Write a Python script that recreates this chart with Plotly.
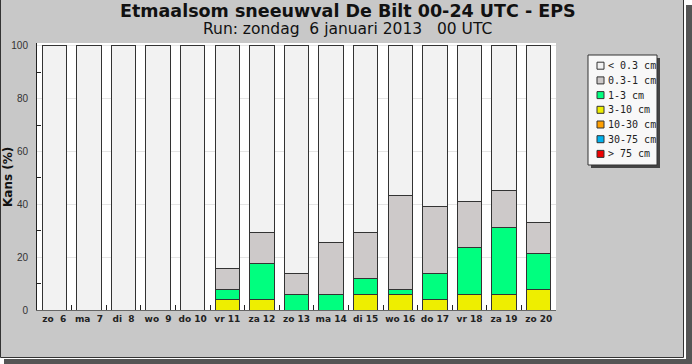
import plotly.graph_objects as go

days = ["zo  6", "ma  7", "di  8", "wo  9", "do 10", "vr 11", "za 12", "zo 13",
        "ma 14", "di 15", "wo 16", "do 17", "vr 18", "za 19", "zo 20"]

# probability (%) per snowfall class, per day
p_gt75 = [0, 0, 0, 0, 0, 0, 0, 0, 0, 0, 0, 0, 0, 0, 0]
p_30_75 = [0, 0, 0, 0, 0, 0, 0, 0, 0, 0, 0, 0, 0, 0, 0]
p_10_30 = [0, 0, 0, 0, 0, 0, 0, 0, 0, 0, 0, 0, 0, 0, 0]
p_3_10 = [0, 0, 0, 0, 0, 3.9, 3.9, 0, 0, 5.9, 5.9, 3.9, 5.9, 5.9, 7.8]
p_1_3 = [0, 0, 0, 0, 0, 3.9, 13.7, 5.9, 5.9, 5.9, 2.0, 9.8, 17.6, 25.5, 13.7]
p_03_1 = [0, 0, 0, 0, 0, 7.8, 11.8, 7.8, 19.6, 17.6, 35.3, 25.5, 17.6, 13.7, 11.8]
p_lt03 = [round(100 - a - b - c - d - e - f, 1) for a, b, c, d, e, f in
          zip(p_gt75, p_30_75, p_10_30, p_3_10, p_1_3, p_03_1)]

class_names = ["< 0.3 cm", "0.3-1 cm", "1-3 cm", "3-10 cm", "10-30 cm", "30-75 cm", "> 75 cm"]
class_colors = ["#f2f2f2", "#cdc9c9", "#00ff7f", "#eeee00", "#ff9f00", "#00b2ee", "#ee0000"]
class_values = [p_lt03, p_03_1, p_1_3, p_3_10, p_10_30, p_30_75, p_gt75]

yticks = [0, 20, 40, 60, 80, 100]

labels = [d.replace("  ", "\u00a0\u00a0") for d in days]

fig = go.Figure()
# stack from the heaviest class (bottom) to the lightest (top)
for name, col, vals in reversed(list(zip(class_names, class_colors, class_values))):
    fig.add_trace(go.Bar(
        x=labels, y=vals, name=name, width=0.705,
        marker=dict(color=col, line=dict(color="#333333", width=1)),
        showlegend=False,
    ))

# geometry helpers (pixel -> paper coords)
L, R, T, B = 37, 136, 43, 54
W, H = 692, 364
PW, PH = W - L - R, H - T - B


def px(x):
    return (x - L) / PW


def py(y):
    return (H - B - y) / PH


shapes = []
ann = []

# outer frame / shadow
shapes.append(dict(type="rect", xref="paper", yref="paper", x0=px(684), x1=px(693), y0=py(-1), y1=py(365),
                   fillcolor="#ffffff", line=dict(width=0), layer="above"))
shapes.append(dict(type="rect", xref="paper", yref="paper", x0=px(-1), x1=px(693), y0=py(357), y1=py(365),
                   fillcolor="#ffffff", line=dict(width=0), layer="above"))
shapes.append(dict(type="rect", xref="paper", yref="paper", x0=px(686), x1=px(693), y0=py(5), y1=py(365),
                   fillcolor="#555555", line=dict(width=0), layer="above"))
shapes.append(dict(type="rect", xref="paper", yref="paper", x0=px(4), x1=px(693), y0=py(359), y1=py(365),
                   fillcolor="#555555", line=dict(width=0), layer="above"))
shapes.append(dict(type="rect", xref="paper", yref="paper", x0=px(0.5), x1=px(683.5), y0=py(-2), y1=py(357.5),
                   fillcolor="rgba(0,0,0,0)", line=dict(width=1, color="#333333"), layer="above"))

# manual legend
lx0, lx1, ly0, ly1 = 588, 657, 55, 165
shapes.append(dict(type="rect", xref="paper", yref="paper", x0=px(lx0 + 3), x1=px(lx1 + 3), y0=py(ly0 + 3), y1=py(ly1 + 3),
                   fillcolor="#444444", line=dict(width=0), layer="above"))
shapes.append(dict(type="rect", xref="paper", yref="paper", x0=px(lx0), x1=px(lx1), y0=py(ly0), y1=py(ly1),
                   fillcolor="#f8f8f8", line=dict(width=1, color="#333333"), layer="above"))
for i, (name, col) in enumerate(zip(class_names, class_colors)):
    cy = 65.7 + i * 14.7
    shapes.append(dict(type="rect", xref="paper", yref="paper", x0=px(597), x1=px(604), y0=py(cy - 3.5), y1=py(cy + 3.5),
                       fillcolor=col, line=dict(width=1, color="#333333"), layer="above"))
    ann.append(dict(text=name, xref="paper", yref="paper", x=px(606), y=py(cy), xanchor="left", yanchor="middle",
                    showarrow=False, font=dict(family="DejaVu Sans Mono", size=10, color="#222222")))

# titles
ann.append(dict(text="<b>Etmaalsom sneeuwval De Bilt 00-24 UTC - EPS</b>", xref="paper", yref="paper",
                x=px(347.5), y=py(11), xanchor="center", yanchor="middle", showarrow=False,
                font=dict(family="DejaVu Sans", size=17.5, color="#111111")))
ann.append(dict(text="Run: zondag\u00a0\u00a06 januari 2013\u00a0\u00a0\u00a000 UTC", xref="paper", yref="paper",
                x=px(347), y=py(29.5), xanchor="center", yanchor="middle", showarrow=False,
                font=dict(family="DejaVu Sans", size=15.5, color="#111111")))
ann.append(dict(text="<b>Kans (%)</b>", xref="paper", yref="paper", x=px(8), y=py(177), xanchor="center",
                yanchor="middle", textangle=-90, showarrow=False,
                font=dict(family="DejaVu Sans", size=12, color="#111111")))

fig.update_layout(
    template="none",
    width=W, height=H,
    margin=dict(l=L, r=R, t=T, b=B, pad=0),
    barmode="stack",
    paper_bgcolor="#c8c8c8",
    plot_bgcolor="#ffffff",
    showlegend=False,
    shapes=shapes,
    annotations=ann,
    xaxis=dict(
        type="category", range=[-0.5, 14.5], tickson="boundaries", ticks="inside", ticklen=5,
        tickcolor="#222222", showline=True, linecolor="#666666", linewidth=1, showgrid=False,
        tickangle=0, automargin=False,
        tickfont=dict(family="DejaVu Sans", size=9, color="#222222", weight="bold"),
        fixedrange=True,
    ),
    yaxis=dict(
        range=[0, 101.1], tickvals=yticks, ticks="", showline=True, linecolor="#222222", linewidth=1,
        showgrid=True, gridcolor="#e4e4e4", gridwidth=1, zeroline=False, automargin=False,
        tickfont=dict(family="Liberation Sans", size=10, color="#333333"),
        ticklabelstandoff=6,
        minor=dict(tickvals=[10, 30, 50, 70, 90], ticks="inside", ticklen=4, tickcolor="#222222", showgrid=False),
        fixedrange=True,
    ),
)

fig.write_html("out.html", config={"displayModeBar": False},
               post_script="document.body.style.margin='0';document.body.style.overflow='hidden';")
